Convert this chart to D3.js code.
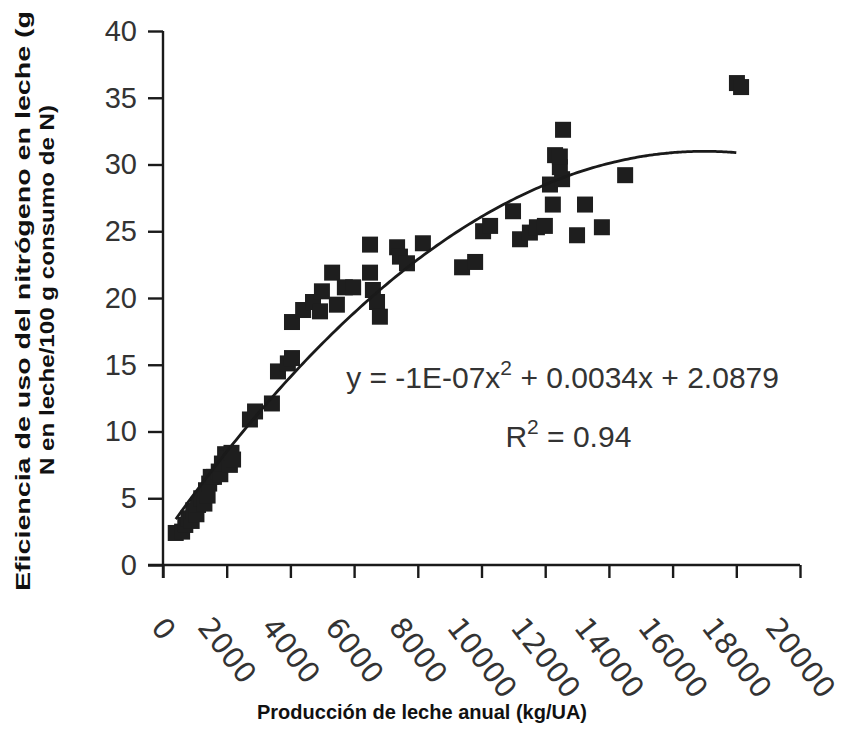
<!DOCTYPE html>
<html>
<head>
<meta charset="utf-8">
<script src="https://cdn.jsdelivr.net/npm/d3@7"></script>
<style>
  body { margin: 0; background: #fff; }
</style>
</head>
<body>
<div id="chart"></div>
<script>
const WIDTH = 844;
const HEIGHT = 748;

// producción de leche anual (kg/UA)
const milkYield = [
  400, 600, 700, 800, 900, 950, 1050, 1100, 1200, 1300, 1350, 1400, 1450, 1500, 1600,
  1750, 1800, 1850, 1950, 2000, 2100, 2150, 2200,
  2730, 2890, 3420, 3610, 3920, 4050, 4050, 4400, 4710, 4990, 5310, 4930, 5460, 5710,
  5970, 6500, 6500, 6590, 6720, 6810, 7350, 7440, 7660, 8160,
  9390, 9800, 10050, 10270, 10990, 11210, 11520, 11740, 11990, 12240, 12150, 12530,
  12460, 12310, 12460, 12560, 13250, 13000, 13780, 14510, 18020, 18150
];
// eficiencia de uso del N (g N en leche / 100 g N consumido)
const nEfficiency = [
  2.4, 2.5, 3.0, 3.5, 3.3, 4.1, 3.8, 4.5, 5.0, 4.6, 5.6, 5.2, 6.1, 6.6, 6.6,
  7.0, 6.8, 7.6, 8.3, 8.0, 7.5, 8.4, 7.9,
  10.9, 11.5, 12.1, 14.5, 15.1, 15.5, 18.2, 19.1, 19.7, 20.5, 21.9, 19.0, 19.5, 20.8,
  20.8, 24.0, 21.9, 20.6, 19.7, 18.6, 23.8, 23.1, 22.6, 24.1,
  22.3, 22.7, 25.0, 25.4, 26.5, 24.4, 24.9, 25.3, 25.4, 27.0, 28.5, 28.9,
  29.8, 30.7, 30.6, 32.6, 27.0, 24.7, 25.3, 29.2, 36.1, 35.8
];

const xTicks = [0, 2000, 4000, 6000, 8000, 10000, 12000, 14000, 16000, 18000, 20000];
const yTicks = [0, 5, 10, 15, 20, 25, 30, 35, 40];

// polynomial trend line shown on the chart
const fitCoef = [-1e-7, 0.0034, 2.0879];
const fitLabel = 'y = -1E-07x';
const r2Label = '0.94';

const xLabel = 'Producción de leche anual  (kg/UA)';
const yLabel1 = 'Eficiencia de uso del nitrógeno en leche (g';
const yLabel2 = 'N en leche/100 g consumo de N)';

const margin = { left: 163, top: 31, right: 44, bottom: 183 };
const w = WIDTH - margin.left - margin.right;
const h = HEIGHT - margin.top - margin.bottom;

const x = d3.scaleLinear().domain([0, 20000]).range([0, w]);
const y = d3.scaleLinear().domain([0, 40]).range([h, 0]);

const svg = d3.select('#chart').append('svg')
  .attr('width', WIDTH)
  .attr('height', HEIGHT)
  .style('font-family', '"Liberation Sans", Arial, sans-serif');

const g = svg.append('g')
  .attr('transform', `translate(${margin.left},${margin.top})`);

// points
const pts = milkYield.map((v, i) => ({ x: v, y: nEfficiency[i] }));
const S = 16;
g.append('g').selectAll('rect')
  .data(pts)
  .enter().append('rect')
    .attr('x', d => x(d.x) - S / 2)
    .attr('y', d => y(d.y) - S / 2)
    .attr('width', S)
    .attr('height', S)
    .attr('fill', '#1e1e1e');

// trend line
const xmin = d3.min(milkYield), xmax = d3.max(milkYield);
const fitX = d3.range(xmin, xmax - 100, 100);
const line = d3.line()
  .x(d => x(d))
  .y(d => y(fitCoef[0] * d * d + fitCoef[1] * d + fitCoef[2]))
  .curve(d3.curveBasis);
g.append('path')
  .datum(fitX)
  .attr('d', line)
  .attr('fill', 'none')
  .attr('stroke', '#1a1a1a')
  .attr('stroke-width', 2.8);

// axes
const xAxis = g.append('g')
  .attr('transform', `translate(0,${h})`)
  .call(d3.axisBottom(x).tickValues(xTicks).tickSize(13).tickSizeOuter(0).tickFormat(d3.format('d')));
xAxis.select('.domain').attr('d', `M-15,0H${w}`);

const yAxis = g.append('g')
  .call(d3.axisLeft(y).tickValues(yTicks).tickSize(15).tickSizeOuter(0).tickFormat(d3.format('d')));
yAxis.select('.domain').attr('d', `M0,0V${h + 13}`);

svg.selectAll('.domain, .tick line')
  .attr('stroke', '#1a1a1a')
  .attr('stroke-width', 2.4);

yAxis.selectAll('.tick text')
  .attr('x', -26)
  .attr('font-size', 29)
  .attr('font-family', '"Liberation Sans", Arial, sans-serif')
  .attr('fill', '#333');

const ANG = 52, rad = ANG * Math.PI / 180;
xAxis.selectAll('.tick text')
  .attr('font-size', 29)
  .attr('font-family', '"DejaVu Sans", Verdana, sans-serif')
  .attr('fill', '#333')
  .attr('text-anchor', 'middle')
  .attr('dominant-baseline', 'central')
  .attr('y', 0)
  .attr('dy', null)
  .each(function () {
    const L = this.getComputedTextLength();
    const gh = 21;
    const bh = L * Math.sin(rad) + gh * Math.cos(rad);
    d3.select(this).attr('transform', `translate(0,${50 + bh / 2}) rotate(${ANG})`);
  });

// equation
const eq = g.append('text')
  .attr('x', x(5750))
  .attr('y', 388 - margin.top)
  .attr('font-size', 30)
  .attr('fill', '#333');
eq.append('tspan').text(fitLabel);
eq.append('tspan').attr('dy', -13).attr('font-size', 21).text('2');
eq.append('tspan').attr('dy', 13).text(' + 0.0034x + 2.0879');

const r2 = g.append('text')
  .attr('x', x(10750))
  .attr('y', 447 - margin.top)
  .attr('font-size', 30)
  .attr('fill', '#333');
r2.append('tspan').text('R');
r2.append('tspan').attr('dy', -13).attr('font-size', 21).text('2');
r2.append('tspan').attr('dy', 13).text(' = ' + r2Label);

// axis titles
svg.append('text')
  .attr('x', 422)
  .attr('y', 719)
  .attr('text-anchor', 'middle')
  .attr('font-size', 21)
  .attr('font-weight', 'bold')
  .attr('fill', '#111')
  .attr('textLength', 330)
  .attr('lengthAdjust', 'spacingAndGlyphs')
  .text(xLabel);

svg.append('text')
  .attr('transform', 'translate(30,301) rotate(-90)')
  .attr('text-anchor', 'middle')
  .attr('font-size', 21)
  .attr('font-weight', 'bold')
  .attr('fill', '#111')
  .attr('textLength', 580)
  .attr('lengthAdjust', 'spacingAndGlyphs')
  .text(yLabel1);

svg.append('text')
  .attr('transform', 'translate(54,290) rotate(-90)')
  .attr('text-anchor', 'middle')
  .attr('font-size', 21)
  .attr('font-weight', 'bold')
  .attr('fill', '#111')
  .attr('textLength', 370)
  .attr('lengthAdjust', 'spacingAndGlyphs')
  .text(yLabel2);
</script>
</body>
</html>
